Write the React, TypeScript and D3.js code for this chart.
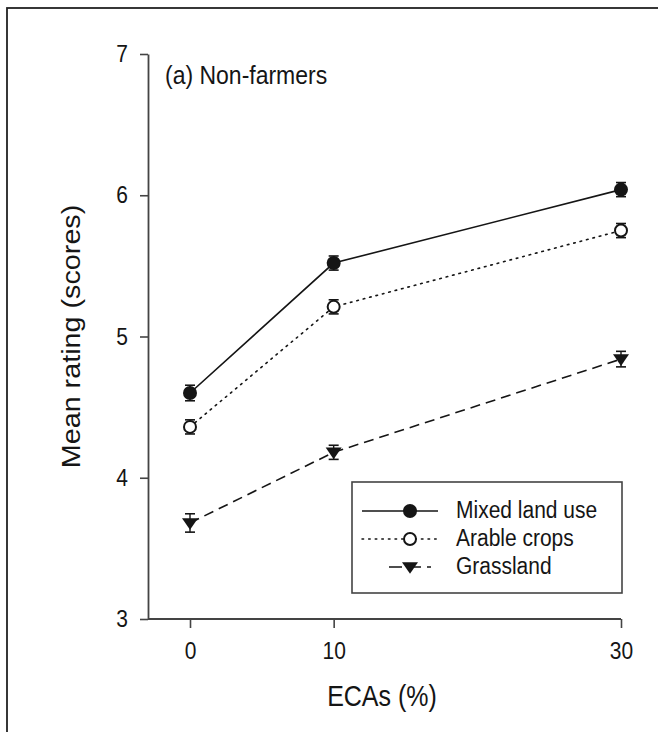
import { useRef, useEffect } from "react";
import * as d3 from "d3";

const ecas = [0, 10, 30];
const mixedLandUse = [4.6, 5.52, 6.04];
const arableCrops = [4.36, 5.21, 5.75];
const grassland = [3.68, 4.18, 4.84];
const mixedSE = [0.055, 0.05, 0.05];
const arableSE = [0.05, 0.05, 0.05];
const grassSE = [0.065, 0.05, 0.055];
const yTicks = [3, 4, 5, 6, 7];
const seriesNames = ["Mixed land use", "Arable crops", "Grassland"];

const W = 658;
const H = 732;
const FONT = "'Liberation Sans', Arial, sans-serif";
const INK = "#151515";
// the scanned figure is a bit taller than it is wide, so glyphs get stretched
const STRETCH = 1.15;

export default function App() {
  const axesRef = useRef(null);

  const xScale = d3.scaleLinear().domain([0, 30]).range([190, 621]);
  const yScale = d3.scaleLinear().domain([3, 7]).range([619, 54]);
  const axisX0 = 148;

  useEffect(() => {
    const g = d3.select(axesRef.current);
    g.selectAll("*").remove();

    const yAxis = g
      .append("g")
      .attr("transform", `translate(${axisX0},0)`)
      .call(d3.axisLeft(yScale).tickValues(yTicks).tickSize(8).tickSizeOuter(0).tickPadding(12).tickFormat(d3.format("d")));
    yAxis.select(".domain").attr("stroke", "#444").attr("stroke-width", 1.8);
    yAxis.selectAll("line").attr("stroke", "#444").attr("stroke-width", 1.6);
    yAxis
      .selectAll("text")
      .attr("font-size", 21)
      .attr("font-family", FONT)
      .attr("fill", INK)
      .attr("transform", `scale(1,${STRETCH})`);

    const xAxis = g
      .append("g")
      .attr("transform", `translate(0,${yScale(3)})`)
      .call(d3.axisBottom(xScale).tickValues(ecas).tickSize(9).tickSizeOuter(0).tickPadding(11).tickFormat(d3.format("d")));
    xAxis.select(".domain").remove();
    xAxis
      .append("line")
      .attr("x1", axisX0)
      .attr("x2", xScale(30))
      .attr("stroke", "#444")
      .attr("stroke-width", 1.8);
    xAxis.selectAll(".tick line").attr("stroke", "#444").attr("stroke-width", 1.6);
    xAxis
      .selectAll("text")
      .attr("font-size", 21)
      .attr("font-family", FONT)
      .attr("fill", INK)
      .attr("transform", `scale(1,${STRETCH})`);
  }, []);

  const line = d3
    .line<number>()
    .x((_, i) => xScale(ecas[i]))
    .y((d) => yScale(d));

  const series = [
    { name: seriesNames[0], values: mixedLandUse, se: mixedSE, dash: "none", marker: "filled" },
    { name: seriesNames[1], values: arableCrops, se: arableSE, dash: "1.6,5", marker: "open" },
    { name: seriesNames[2], values: grassland, se: grassSE, dash: "10,6", marker: "tri" },
  ];

  const marker = (kind: string, cx: number, cy: number, key: string) => {
    if (kind === "filled") return <circle key={key} cx={cx} cy={cy} r={7} fill={INK} />;
    if (kind === "open")
      return <circle key={key} cx={cx} cy={cy} r={6} fill="white" stroke={INK} strokeWidth={2} />;
    const s = 8;
    return (
      <path
        key={key}
        d={`M${cx - s},${cy - s * 0.6} L${cx + s},${cy - s * 0.6} L${cx},${cy + s * 0.85} Z`}
        fill={INK}
      />
    );
  };

  const legendY = [511, 539, 567];

  return (
    <div style={{ position: "absolute", left: 0, top: 0 }}>
      <svg width={W} height={H} style={{ display: "block", background: "white" }}>
        <rect x={7} y={8} width={700} height={760} fill="none" stroke="#222" strokeWidth={1.8} />

        <g ref={axesRef} />

        {series.map((s, i) => (
          <g key={s.name}>
            <path
              d={line(s.values) || ""}
              fill="none"
              stroke={INK}
              strokeWidth={1.6}
              strokeDasharray={s.dash}
              strokeLinecap={i === 1 ? "round" : "butt"}
            />
            {s.values.map((v, j) => {
              const cx = xScale(ecas[j]);
              const top = yScale(v + s.se[j]);
              const bot = yScale(v - s.se[j]);
              return (
                <g key={j}>
                  <line x1={cx} x2={cx} y1={top} y2={bot} stroke={INK} strokeWidth={1.4} />
                  <line x1={cx - 5} x2={cx + 5} y1={top} y2={top} stroke={INK} strokeWidth={1.6} />
                  <line x1={cx - 5} x2={cx + 5} y1={bot} y2={bot} stroke={INK} strokeWidth={1.6} />
                  {marker(s.marker, cx, yScale(v), `m${j}`)}
                </g>
              );
            })}
          </g>
        ))}

        <text transform={`translate(165,84) scale(1,${STRETCH})`} fontSize={23} fontFamily={FONT} fill={INK}>
          (a) Non-farmers
        </text>

        <text
          transform={`translate(80,${(yScale(3) + yScale(7)) / 2}) rotate(-90) scale(${STRETCH},1)`}
          textAnchor="middle"
          fontSize={25}
          fontFamily={FONT}
          fill={INK}
        >
          Mean rating (scores)
        </text>

        <text
          transform={`translate(382,706) scale(1,${STRETCH})`}
          textAnchor="middle"
          fontSize={25}
          fontFamily={FONT}
          fill={INK}
        >
          ECAs (%)
        </text>

        <g>
          <rect x={352} y={482} width={270} height={111} fill="white" stroke="#444" strokeWidth={1.6} />
          {series.map((s, i) => (
            <g key={s.name}>
              <line
                x1={i === 2 ? 389 : 362}
                x2={i === 2 ? 431 : 438}
                y1={legendY[i]}
                y2={legendY[i]}
                stroke={INK}
                strokeWidth={1.5}
                strokeDasharray={i === 1 ? "1.6,5" : i === 2 ? "13,6" : "none"}
                strokeLinecap={i === 1 ? "round" : "butt"}
              />
              {marker(s.marker, 410, legendY[i], "lg")}
              <text
                transform={`translate(456,${legendY[i] + 7}) scale(1,${STRETCH})`}
                fontSize={21}
                fontFamily={FONT}
                fill={INK}
              >
                {s.name}
              </text>
            </g>
          ))}
        </g>
      </svg>
    </div>
  );
}
